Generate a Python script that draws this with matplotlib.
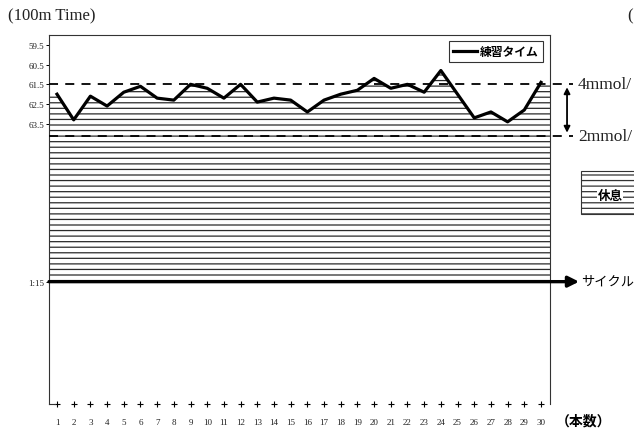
import numpy as np
import matplotlib.pyplot as plt
from matplotlib.patches import Rectangle

plt.rcParams['hatch.linewidth'] = 0.9

SERIF = ['Liberation Serif', 'DejaVu Serif']
JP = ['Noto Sans CJK JP', 'DejaVu Sans']

# 100m lap times for each repetition (seconds)
reps = list(range(1, 31))
lap_times = [62.0, 63.3, 62.1, 62.6, 61.9, 61.6, 62.2, 62.3, 61.5, 61.7,
             62.2, 61.5, 62.4, 62.2, 62.3, 62.9, 62.3, 62.0, 61.8, 61.2,
             61.7, 61.5, 61.9, 60.8, 62.0, 63.2, 62.9, 63.4, 62.8, 61.4]

ytick_vals = [59.5, 60.5, 61.5, 62.5, 63.5, 71.5]
ytick_labels = ['59.5', '60.5', '61.5', '62.5', '63.5', '1:15']

level_4mmol = 61.5
level_2mmol = 64.1
cycle_time = 71.5   # 1:15 cycle

W, H = 634, 431
fig = plt.figure(figsize=(W / 100, H / 100), dpi=100)
ax = fig.add_axes([49 / W, 1 - 405 / H, 501 / W, 369 / H])

x0, x1 = 0.52, 30.54
ax.set_xlim(x0, x1)
ax.set_ylim(77.7, 59.0)

# hatched area under the lap times, across the full width, down to the cycle line
fill_x = [x0] + reps + [x1]
fill_y = [lap_times[0]] + lap_times + [lap_times[-1]]
ax.fill_between(fill_x, fill_y, cycle_time, facecolor='none',
                edgecolor='#2a2a2a', hatch='---', linewidth=0)

ax.plot(reps, lap_times, color='black', lw=2.3, label='練習タイム', zorder=4)

# lactate threshold levels, running past the right edge
for lvl in (level_4mmol, level_2mmol):
    ax.plot([0, 1.045], [lvl, lvl], color='black', lw=1.3, ls=(0, (5, 4)),
            transform=ax.get_yaxis_transform(), clip_on=False, zorder=5)

ax.annotate('', xy=(1.034, level_4mmol + 0.15), xytext=(1.034, level_2mmol - 0.15),
            xycoords=('axes fraction', 'data'),
            arrowprops=dict(arrowstyle='<|-|>', color='black', lw=1.3,
                            mutation_scale=9, shrinkA=0, shrinkB=0),
            annotation_clip=False)

# cycle line with arrow
ax.annotate('', xy=(1.058, cycle_time), xytext=(0, cycle_time),
            xycoords=('axes fraction', 'data'),
            arrowprops=dict(arrowstyle='-|>', color='black', lw=2.4,
                            mutation_scale=16, shrinkA=0, shrinkB=0),
            annotation_clip=False, zorder=5)

# axes frame
for side in ('left', 'right', 'top'):
    ax.spines[side].set_linewidth(0.8)
    ax.spines[side].set_color('#333333')
ax.spines['bottom'].set_visible(False)

ybot = ax.get_ylim()[0]
ax.plot(reps, [ybot] * len(reps), '+', color='black', ms=5, mew=0.8, clip_on=False)
ax.plot([x0, 0.9], [ybot, ybot], color='#333333', lw=0.8, clip_on=False)

ax.set_yticks(ytick_vals)
ax.set_yticklabels(ytick_labels, fontsize=6.5, family=SERIF, color='#222222')
ax.tick_params(axis='y', length=2.5, width=0.7, pad=1)
ax.set_xticks(reps)
ax.set_xticklabels([str(r) for r in reps], fontsize=6.5, family=SERIF, color='#222222')
ax.tick_params(axis='x', length=0, pad=10)

leg = ax.legend(loc='upper right', bbox_to_anchor=(0.986, 0.984), borderaxespad=0,
                handlelength=2.0, handletextpad=0.3, borderpad=0.35,
                fancybox=False, edgecolor='black',
                prop={'family': JP, 'size': 8.5, 'weight': 'bold'})
leg.get_frame().set_linewidth(0.8)

def fx(px):
    return px / W

def fy(py):
    return 1 - py / H

fig.text(fx(8), fy(16), '(100m Time)', family=SERIF, fontsize=12, va='center', color='#222222')
fig.text(fx(627), fy(16), '(', family=SERIF, fontsize=12, va='center', color='#222222')
fig.text(fx(578), fy(85), '4mmol/', family=SERIF, fontsize=12.5, va='center', color='#222222')
fig.text(fx(578), fy(137), '2mmol/', family=SERIF, fontsize=12.5, va='center', color='#222222')
fig.text(fx(581), fy(282), 'サイクル', family=JP, fontsize=9.5, va='center')
fig.text(fx(556), fy(422), '（本数）', family=JP, fontsize=10, va='center', weight='bold')

# rest key
rest = Rectangle((fx(581), fy(215)), fx(70), 43 / H, transform=fig.transFigure,
                 facecolor='none', edgecolor='#333333', hatch='---', lw=0.8)
fig.add_artist(rest)
fig.text(fx(610), fy(196), '休息', family=JP, fontsize=9, weight='bold',
         ha='center', va='center',
         bbox=dict(facecolor='white', edgecolor='none', pad=0.3))

plt.savefig('out.png', dpi=100)
